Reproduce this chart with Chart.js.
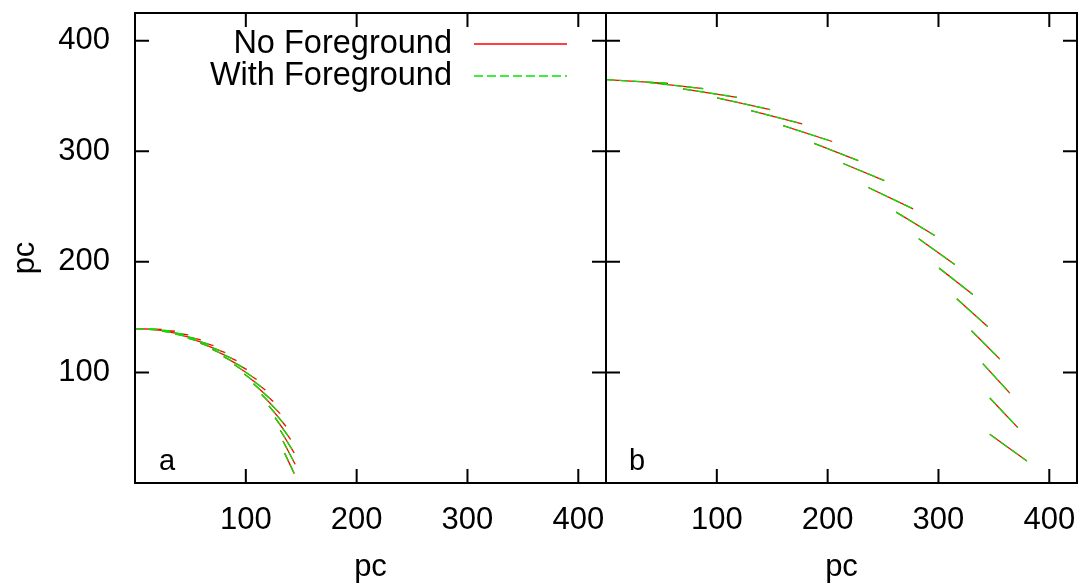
<!DOCTYPE html>
<html>
<head>
<meta charset="utf-8">
<script src="https://cdn.jsdelivr.net/npm/chart.js@4.4.0/dist/chart.umd.min.js"></script>
<style>
  body { margin: 0; background: #fff; width: 1091px; height: 586px; overflow: hidden; position: relative; }
  #wrapA { position: absolute; left: 0; top: 0; width: 620px; height: 586px; }
  #wrapB { position: absolute; left: 560px; top: 0; width: 531px; height: 586px; }
</style>
</head>
<body>
<div id="wrapA"><canvas id="chartA"></canvas></div>
<div id="wrapB"><canvas id="chartB"></canvas></div>
<script>
// series names
const seriesNames = ['No Foreground', 'With Foreground'];

// panel a : start / end of each segment (pc)
const aX0 = [0, 12.2, 24.2, 36.1, 47.7, 59.0, 69.8, 80.0, 89.7, 98.6, 106.9, 114.3, 120.8, 126.4, 131.1, 133.5, 135.0];
const aY0 = [139.5, 139.0, 137.4, 134.8, 131.1, 126.4, 120.8, 114.3, 106.9, 98.6, 89.7, 80.0, 69.8, 59.0, 47.7, 38.0, 27.0];
const aX1 = [24.0, 36.1, 48.0, 59.5, 70.7, 81.4, 91.5, 100.9, 109.7, 117.6, 124.7, 130.9, 136.2, 140.4, 143.6, 144.5, 143.7];
const aY1 = [139.0, 137.2, 133.9, 129.5, 124.2, 117.9, 110.6, 102.5, 93.6, 84.0, 73.6, 62.7, 51.3, 39.4, 27.2, 17.0, 8.5];

// panel b : start / end of each segment (pc)
const bX0 = [0, 38.0, 69.4, 100.2, 130.9, 159.8, 187.8, 214.0, 236.7, 261.8, 282.2, 300.6, 316.5, 329.8, 340.0, 346.3, 346.3];
const bY0 = [364.8, 362.3, 356.4, 348.2, 336.8, 323.2, 307.2, 288.9, 267.2, 244.9, 220.8, 194.3, 166.6, 137.7, 107.9, 76.8, 44.0];
const bX1 = [56.0, 87.7, 118.2, 148.1, 177.0, 204.1, 227.6, 251.1, 277.1, 296.6, 314.7, 331.0, 344.3, 355.4, 364.4, 371.6, 379.8];
const bY1 = [361.4, 356.6, 348.8, 337.7, 324.7, 308.8, 291.6, 273.5, 247.9, 223.8, 197.6, 170.5, 141.6, 112.0, 81.3, 50.1, 19.9];

// axes
const axisMax = 425;
const tickStep = 100;

const FONT = "'Liberation Sans', Arial, sans-serif";
const FS = 31;
const KEY_FS = 32.5;
const TICK = 14;

// segments -> points, a null point between segments so the line breaks
function segPoints(x0, y0, x1, y1) {
    const pts = [];
    x0.forEach((x, i) => {
        pts.push({ x: x, y: y0[i] });
        pts.push({ x: x1[i], y: y1[i] });
        pts.push({ x: null, y: null });
    });
    return pts;
}

// red solid underneath, green dashed on top (lower order = drawn last)
function makeDatasets(x0, y0, x1, y1) {
    return [
        { label: seriesNames[0], data: segPoints(x0, y0, x1, y1), borderColor: '#ff0000', borderWidth: 1.3,
          showLine: true, pointRadius: 0, spanGaps: false, order: 1 },
        { label: seriesNames[1], data: segPoints(x0, y0, x1, y1), borderColor: '#00e600', borderWidth: 1.3,
          borderDash: [9, 4], showLine: true, pointRadius: 0, spanGaps: false, order: 0 }
    ];
}

// frame and inward ticks on all four sides (gnuplot style)
const frameTicks = {
    id: 'frameTicks',
    afterDraw(chart) {
        const { ctx, chartArea: ca, scales } = chart;
        ctx.save();
        ctx.strokeStyle = '#000';
        ctx.lineWidth = 2;
        ctx.strokeRect(ca.left, ca.top, ca.right - ca.left, ca.bottom - ca.top);
        ctx.beginPath();
        scales.x.ticks.forEach(t => {
            if (t.value === 0) return;
            const px = scales.x.getPixelForValue(t.value);
            ctx.moveTo(px, ca.bottom); ctx.lineTo(px, ca.bottom - TICK);
            ctx.moveTo(px, ca.top); ctx.lineTo(px, ca.top + TICK);
        });
        scales.y.ticks.forEach(t => {
            if (t.value === 0) return;
            const py = scales.y.getPixelForValue(t.value);
            ctx.moveTo(ca.left, py); ctx.lineTo(ca.left + TICK, py);
            ctx.moveTo(ca.right, py); ctx.lineTo(ca.right - TICK, py);
        });
        ctx.stroke();
        ctx.restore();
    }
};

// panel letter, placed in data coords
const panelTag = {
    id: 'panelTag',
    afterDraw(chart, args, opts) {
        const { ctx, scales } = chart;
        ctx.save();
        ctx.font = FS - 2 + 'px ' + FONT;
        ctx.fillStyle = '#000';
        ctx.textAlign = 'center';
        ctx.textBaseline = 'middle';
        ctx.fillText(opts.text, scales.x.getPixelForValue(opts.x), scales.y.getPixelForValue(opts.y));
        ctx.restore();
    }
};

// gnuplot-like key: text right aligned, then line sample; also the rotated y title
const keyBox = {
    id: 'keyBox',
    afterDraw(chart, args, opts) {
        if (!opts.show) return;
        const ctx = chart.ctx;
        ctx.save();
        ctx.font = KEY_FS + 'px ' + FONT;
        ctx.fillStyle = '#000';
        ctx.textBaseline = 'middle';
        chart.data.datasets.forEach((ds, i) => {
            const y = opts.top + i * opts.gap;
            ctx.textAlign = 'right';
            ctx.fillText(ds.label, opts.textRight, y);
            ctx.strokeStyle = ds.borderColor;
            ctx.lineWidth = 1.3;
            ctx.setLineDash(ds.borderDash || []);
            ctx.beginPath();
            ctx.moveTo(opts.lineFrom, y);
            ctx.lineTo(opts.lineTo, y);
            ctx.stroke();
        });
        // y axis title
        ctx.font = FS + 'px ' + FONT;
        ctx.translate(opts.yTitleX, opts.yTitleY);
        ctx.rotate(-Math.PI / 2);
        ctx.textAlign = 'center';
        ctx.fillText('pc', 0, 0);
        ctx.restore();
    }
};

function axisOpts(showLabels, showTitle, isX) {
    return {
        type: 'linear',
        display: showLabels,
        min: 0,
        max: axisMax,
        grid: { display: false },
        border: { display: false },
        ticks: {
            stepSize: tickStep,
            includeBounds: false,
            autoSkip: false,
            maxRotation: 0,
            color: '#000',
            font: { family: FONT, size: FS },
            padding: isX ? 11 : 17,
            callback: v => (v === 0 ? '' : v)
        },
        title: {
            display: showTitle,
            text: 'pc',
            color: '#000',
            font: { family: FONT, size: FS },
            padding: 0
        },
        afterFit: s => {
            if (!showLabels) return;
            if (isX) { s.height = 103; s.paddingLeft = 0; s.paddingRight = 0; }
            else { s.width = 135; s.paddingTop = 0; s.paddingBottom = 0; }
        }
    };
}

const chartA = new Chart(document.getElementById('chartA'), {
    type: 'scatter',
    data: { datasets: makeDatasets(aX0, aY0, aX1, aY1) },
    options: {
        responsive: true,
        maintainAspectRatio: false,
        animation: false,
        layout: { padding: { top: 13, right: 14, left: 0, bottom: 0 } },
        scales: { x: axisOpts(true, true, true), y: axisOpts(true, false, false) },
        plugins: {
            legend: { display: false },
            tooltip: { enabled: false },
            panelTag: { text: 'a', x: 29, y: 19 },
            keyBox: { show: true, top: 44, gap: 32, textRight: 452, lineFrom: 474, lineTo: 567,
                      yTitleX: 25, yTitleY: 258 }
        }
    },
    plugins: [frameTicks, panelTag, keyBox]
});

const chartB = new Chart(document.getElementById('chartB'), {
    type: 'scatter',
    data: { datasets: makeDatasets(bX0, bY0, bX1, bY1) },
    options: {
        responsive: true,
        maintainAspectRatio: false,
        animation: false,
        layout: { padding: { top: 13, right: 14, left: 46, bottom: 0 } },
        scales: { x: axisOpts(true, true, true), y: axisOpts(false, false, false) },
        plugins: {
            legend: { display: false },
            tooltip: { enabled: false },
            panelTag: { text: 'b', x: 28, y: 19 },
            keyBox: { show: false }
        }
    },
    plugins: [frameTicks, panelTag, keyBox]
});
</script>
</body>
</html>
